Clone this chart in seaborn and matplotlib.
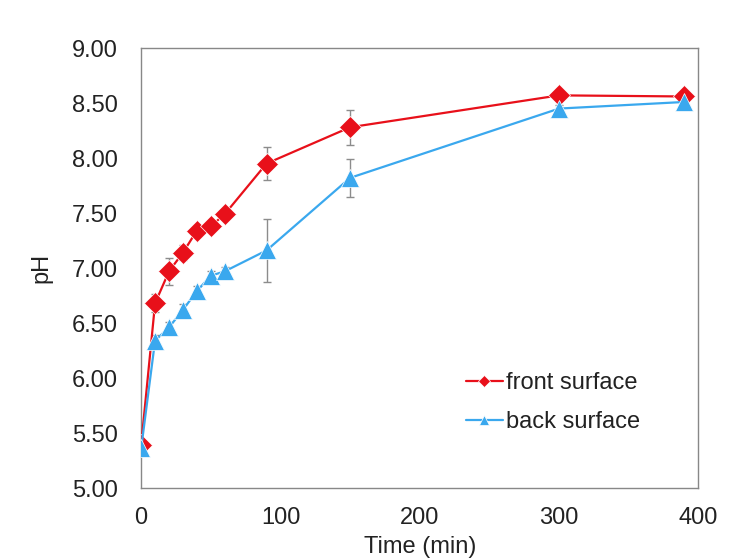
import matplotlib
matplotlib.use("Agg")
import matplotlib.pyplot as plt
import seaborn as sns
import pandas as pd
import numpy as np

time_min = [0, 10, 20, 30, 40, 50, 60, 90, 150, 300, 390]
front_ph = [5.39, 6.68, 6.97, 7.14, 7.34, 7.38, 7.49, 7.95, 8.28, 8.57, 8.56]
front_err = [0.03, 0.08, 0.12, 0.07, 0.05, 0.04, 0.04, 0.15, 0.16, 0.03, 0.03]
back_ph = [5.36, 6.34, 6.46, 6.62, 6.79, 6.93, 6.97, 7.16, 7.82, 8.45, 8.51]
back_err = [0.03, 0.05, 0.05, 0.05, 0.05, 0.04, 0.04, 0.29, 0.17, 0.03, 0.03]
series_names = ["front surface", "back surface"]
x_ticks = [0, 100, 200, 300, 400]
y_ticks = [5.0, 5.5, 6.0, 6.5, 7.0, 7.5, 8.0, 8.5, 9.0]

sns.set_style("white")
plt.rcParams['font.family'] = ['Liberation Sans', 'DejaVu Sans']

df = pd.DataFrame({
    "Time (min)": time_min * 2,
    "pH": front_ph + back_ph,
    "series": [series_names[0]] * len(time_min) + [series_names[1]] * len(time_min),
})

colors = {series_names[0]: "#E8101A", series_names[1]: "#3AA8EE"}
markers = {series_names[0]: "D", series_names[1]: "^"}

fig = plt.figure(figsize=(7.39, 5.59), dpi=100)
ax = fig.add_axes([0.191, 0.127, 0.754, 0.787])

for xs, ys, es in [(time_min, front_ph, front_err), (time_min, back_ph, back_err)]:
    ax.errorbar(xs, ys, yerr=es, fmt="none", ecolor="#8c8c8c", elinewidth=1.0, capsize=3, capthick=1.0, zorder=1)

sns.lineplot(data=df, x="Time (min)", y="pH", hue="series", style="series",
             palette=colors, markers=markers, dashes=False, ax=ax,
             linewidth=1.6, markersize=11, markeredgewidth=0.5, zorder=3)

# enlarge triangles a bit
for line in ax.get_lines():
    if line.get_marker() == "^":
        line.set_markersize(13)

ax.set_xlim(0, 400)
ax.set_ylim(5.0, 9.0)
ax.set_xticks(x_ticks)
ax.set_yticks(y_ticks)
ax.set_yticklabels([f"{v:.2f}" for v in y_ticks])
ax.tick_params(direction="in", length=4, color="#888888", labelsize=17, labelcolor="#222222")
ax.tick_params(axis="y", pad=17)
ax.tick_params(axis="x", pad=14)
for s in ax.spines.values():
    s.set_color("#888888")
    s.set_linewidth(1.0)
ax.set_xlabel("Time (min)", fontsize=17, labelpad=5, color="#222222")
ax.set_ylabel("pH", fontsize=17, labelpad=14, color="#222222")

handles, labels = ax.get_legend_handles_labels()
leg = ax.legend(handles, labels, loc="lower right", bbox_to_anchor=(0.895, 0.125), frameon=False,
                fontsize=17, handlelength=1.6, handletextpad=0.1, labelspacing=0.7, markerscale=0.6,
                borderpad=0, borderaxespad=0)
for t in leg.get_texts():
    t.set_color("#222222")

fig.savefig("out.png", dpi=100)
